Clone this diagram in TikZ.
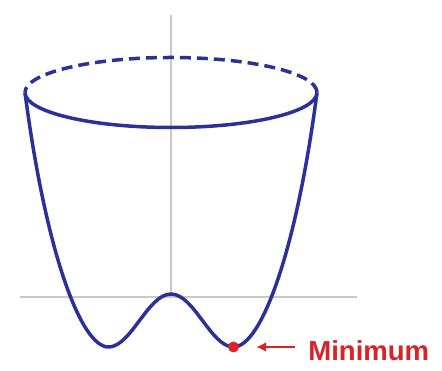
\documentclass[tikz,border=0pt]{standalone}
\usepackage{fontspec}
\setmainfont{Liberation Sans}
\usetikzlibrary{positioning}
\usetikzlibrary{arrows.meta}

\definecolor{wellblue}{RGB}{42,50,152}
\definecolor{minred}{RGB}{218,34,40}
\definecolor{axisgray}{RGB}{200,200,200}

\begin{document}
\begin{tikzpicture}[x=1pt, y=1pt,
  wellline/.style={wellblue, line width=3.5pt, line join=round},
  axisline/.style={axisgray, line width=1.3pt},
  minlabel/.style={text=minred, inner sep=0pt, font=\bfseries\fontsize{27.5}{31}\selectfont},
  minarrow/.style={minred, line width=2pt, -{Latex[length=10pt,width=10pt]},
    shorten <=13pt, shorten >=17pt}]
\def\rx{146}
\def\ry{35}
\def\hrim{204.5}
\def\xm{62.5}
\def\ym{-50}
\def\ytop{3}

\useasboundingbox (-171,-74) rectangle (271,297);

\coordinate (O) at (0,0);
\coordinate (L) at (-\rx,\hrim);
\coordinate (R) at (\rx,\hrim);
\coordinate (ML) at (-\xm,\ym);
\coordinate (MR) at (\xm,\ym);
\coordinate (T) at (0,\ytop);

% Axes
\draw[axisline] (-151,0) -- (186,0);
\draw[axisline] (O) -- (0,282);

% Back half of the rim
\draw[wellline, dash pattern=on 11pt off 6pt]
  (R) arc[start angle=0,end angle=180,x radius=\rx,y radius=\ry];

% Front half of the rim
\draw[wellline]
  (L) arc[start angle=180,end angle=360,x radius=\rx,y radius=\ry];

% Double well profile
\draw[wellline]
  (L) .. controls (-125.5,47) and (-90.5,\ym) .. (ML)
  .. controls (-40,\ym) and (-23,\ytop) .. (T)
  .. controls (23,\ytop) and (40,\ym) .. (MR)
  .. controls (90.5,\ym) and (125.5,47) .. (R);

% Minimum marker
\node[circle, fill=minred, inner sep=0pt, minimum size=11pt] (mindot) at (MR) {};
\node[minlabel, right=69pt of mindot, yshift=-4pt] (minlabel) {Minimum};
\draw[minarrow] (mindot -| minlabel.west) -- (mindot.east);
\end{tikzpicture}
\end{document}
